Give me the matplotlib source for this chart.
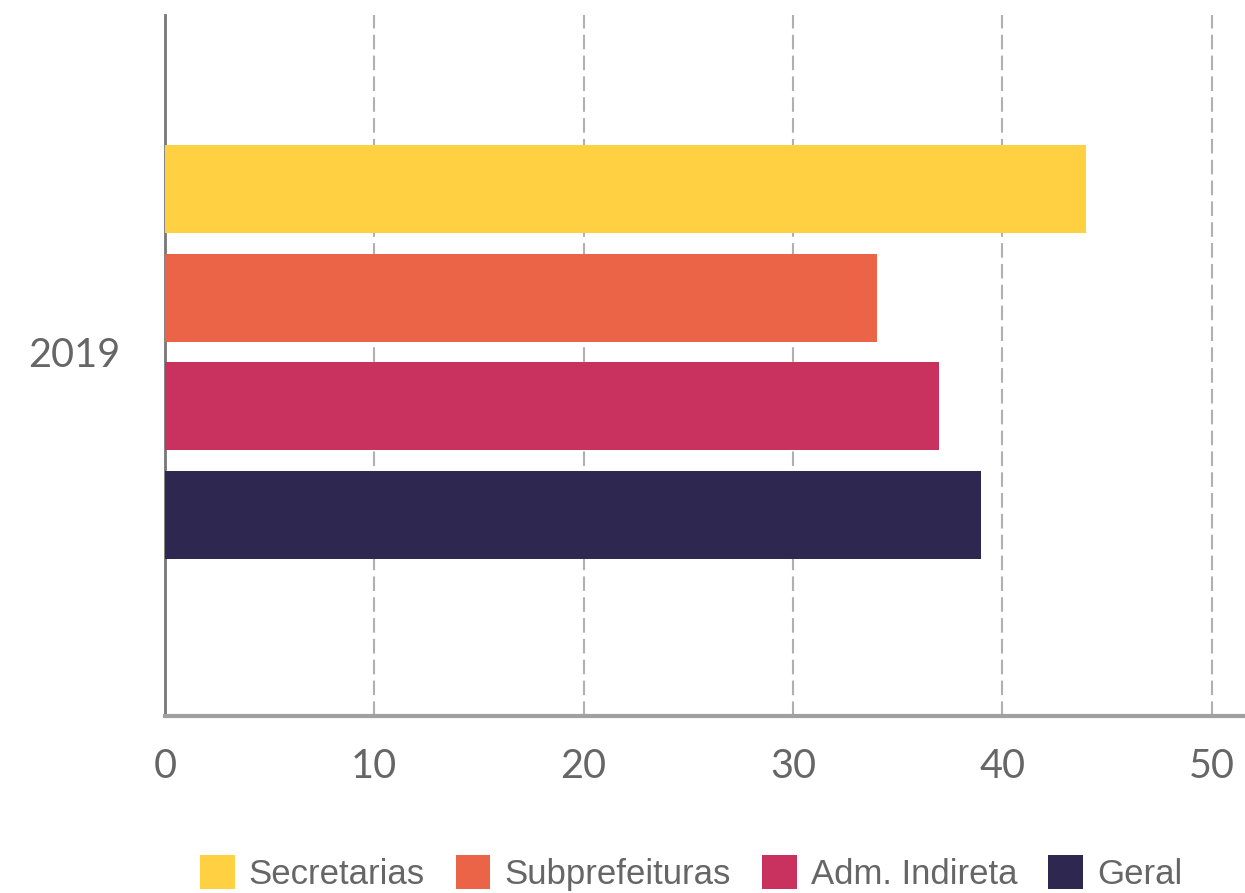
import matplotlib.pyplot as plt
from matplotlib.patches import Patch

# dados
categoria = '2019'
series = ['Secretarias', 'Subprefeituras', 'Adm. Indireta', 'Geral']
valores = [44, 34, 37, 39]
cores = ['#FFD042', '#EC6447', '#C9325E', '#2E2850']
xticks = [0, 10, 20, 30, 40, 50]

fig = plt.figure(figsize=(12.45, 8.93), dpi=100)
ax = fig.add_axes([165/1245, 1-716/893, (1245-165)/1245, (716-15)/893])

passo = 1.0
for i, (nome, v, c) in enumerate(zip(series, valores, cores)):
    ax.barh((i - 1.5) * passo, v, height=0.81, color=c, label=nome, zorder=3)

ax.set_xlim(0, 51.6)
ax.set_ylim(3.35, -3.10)
ax.set_yticks([0])
ax.set_yticklabels([categoria])
ax.set_xticks(xticks)
ax.tick_params(axis='both', length=0, labelsize=28.5, labelcolor='#666666')
ax.tick_params(axis='x', pad=23)
ax.tick_params(axis='y', pad=32)
for lab in ax.get_xticklabels() + ax.get_yticklabels():
    lab.set_family('Lato')

ax.grid(axis='x', color='#b0b0b0', linestyle=(0, (7, 3)), linewidth=1.5, zorder=0)
for s in ['top', 'right']:
    ax.spines[s].set_visible(False)
ax.spines['left'].set_color('#777777')
ax.spines['left'].set_linewidth(2)
ax.spines['bottom'].set_color('#a0a0a0')
ax.spines['bottom'].set_linewidth(3)

handles = [Patch(facecolor=c, label=n) for n, c in zip(series, cores)]
fig.legend(handles=handles, loc='center', bbox_to_anchor=(691/1245, 1-873/893), ncol=4,
           frameon=False, prop={'family': 'Liberation Sans', 'size': 25},
           handlelength=1.0, handleheight=1.15, handletextpad=0.4, columnspacing=0.9,
           labelcolor='#666666')

fig.savefig('out.png', dpi=100)
